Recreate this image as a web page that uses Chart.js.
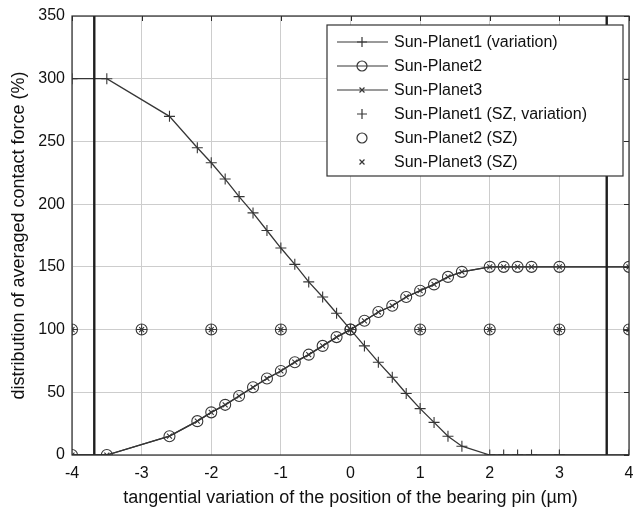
<!DOCTYPE html>
<html>
<head>
<meta charset="utf-8">
<script src="https://cdn.jsdelivr.net/npm/chart.js@4/dist/chart.umd.min.js"></script>
<style>
  html, body { margin: 0; padding: 0; background: #fff; }
  #wrap { width: 633px; height: 511px; }
</style>
</head>
<body>
<div id="wrap"><canvas id="chart" width="633" height="511"></canvas></div>
<script>
// pin offset (µm) for the variation curves
const offsets = [-4, -3.5, -2.6, -2.2, -2, -1.8, -1.6, -1.4, -1.2, -1, -0.8, -0.6, -0.4, -0.2, 0,
  0.2, 0.4, 0.6, 0.8, 1, 1.2, 1.4, 1.6, 2, 2.2, 2.4, 2.6, 3, 4];
const planet1 = [300, 300, 270, 245, 233, 220, 206, 193, 179, 165, 152, 138, 126, 113, 100,
  87, 74, 62, 49, 37, 26, 15, 7, 0, 0, 0, 0, 0, 0];
const planet2 = [0, 0, 15, 27, 34, 40, 47, 54, 61, 67, 74, 80, 87, 94, 100,
  107, 114, 119, 126, 131, 136, 142, 146, 150, 150, 150, 150, 150, 150];
const planet3 = [0, 0, 15, 27, 34, 40, 47, 54, 61, 67, 74, 80, 87, 94, 100,
  107, 114, 119, 126, 131, 136, 142, 146, 150, 150, 150, 150, 150, 150];

// SZ reference points
const szOffsets = [-4, -3, -2, -1, 0, 1, 2, 3, 4];
const szPlanet1 = [100, 100, 100, 100, 100, 100, 100, 100, 100];
const szPlanet2 = [100, 100, 100, 100, 100, 100, 100, 100, 100];
const szPlanet3 = [100, 100, 100, 100, 100, 100, 100, 100, 100];

// limits of the admissible pin offset
const limitOffsets = [-3.68, 3.68];
const limitRange = [0, 350];

const xTicks = [-4, -3, -2, -1, 0, 1, 2, 3, 4];
const yTicks = [0, 50, 100, 150, 200, 250, 300, 350];

const labels = [
  'Sun-Planet1 (variation)',
  'Sun-Planet2',
  'Sun-Planet3',
  'Sun-Planet1 (SZ, variation)',
  'Sun-Planet2 (SZ)',
  'Sun-Planet3 (SZ)'
];

const FONT = "'Liberation Sans', Arial, sans-serif";
const INK = '#363636';

const pair = (xs, ys) => xs.map((x, i) => ({ x, y: ys[i] }));

function curve(label, ys, style, radius) {
  return {
    label,
    data: pair(offsets, ys),
    borderColor: INK,
    borderWidth: 1.3,
    pointStyle: style,
    pointRadius: radius,
    pointBorderColor: INK,
    pointBorderWidth: 1.1,
    pointBackgroundColor: 'rgba(0,0,0,0)',
    showLine: true,
    tension: 0
  };
}

function markers(label, ys, style, radius) {
  return {
    label,
    data: pair(szOffsets, ys),
    showLine: false,
    pointStyle: style,
    pointRadius: radius,
    pointBorderColor: INK,
    pointBorderWidth: 1.1,
    pointBackgroundColor: 'rgba(0,0,0,0)'
  };
}

function limitLine(x) {
  return {
    label: 'limit',
    data: limitRange.map((y) => ({ x, y })),
    showLine: true,
    borderColor: '#1e1e1e',
    borderWidth: 2.4,
    pointRadius: 0
  };
}

const datasets = [
  limitLine(limitOffsets[0]),
  limitLine(limitOffsets[1]),
  curve(labels[0], planet1, 'cross', 5.5),
  curve(labels[1], planet2, 'circle', 5.5),
  curve(labels[2], planet3, 'crossRot', 3.5),
  markers(labels[3], szPlanet1, 'cross', 5.5),
  markers(labels[4], szPlanet2, 'circle', 5.5),
  markers(labels[5], szPlanet3, 'crossRot', 3.5)
];

function drawMarker(ctx, style, x, y, r) {
  ctx.beginPath();
  if (style === 'circle') {
    ctx.arc(x, y, r, 0, Math.PI * 2);
  } else if (style === 'cross') {
    ctx.moveTo(x - r, y); ctx.lineTo(x + r, y);
    ctx.moveTo(x, y - r); ctx.lineTo(x, y + r);
  } else {
    const d = r * 0.7071;
    ctx.moveTo(x - d, y - d); ctx.lineTo(x + d, y + d);
    ctx.moveTo(x - d, y + d); ctx.lineTo(x + d, y - d);
  }
  ctx.stroke();
}

// axes frame on all four sides, with short inward ticks on top and right
const framePlugin = {
  id: 'frame',
  afterDatasetsDraw(chart) {
    const { ctx, chartArea: a, scales } = chart;
    ctx.save();
    ctx.strokeStyle = '#2a2a2a';
    ctx.lineWidth = 1.2;
    ctx.strokeRect(a.left, a.top, a.right - a.left, a.bottom - a.top);
    ctx.lineWidth = 1;
    ctx.beginPath();
    scales.x.ticks.forEach((t) => {
      const px = Math.round(scales.x.getPixelForValue(t.value)) + 0.5;
      ctx.moveTo(px, a.top); ctx.lineTo(px, a.top + 5);
    });
    scales.y.ticks.forEach((t) => {
      const py = Math.round(scales.y.getPixelForValue(t.value)) + 0.5;
      ctx.moveTo(a.right, py); ctx.lineTo(a.right - 5, py);
    });
    ctx.stroke();
    ctx.restore();
  }
};

// boxed legend in the upper right corner of the plot
const legendPlugin = {
  id: 'boxLegend',
  afterDraw(chart) {
    const { ctx, chartArea: a } = chart;
    const entries = chart.data.datasets.filter((d) => labels.includes(d.label));
    const boxW = 296;
    const boxH = 151;
    const left = a.right - boxW - 6;
    const top = a.top + 9;
    ctx.save();
    ctx.fillStyle = '#fff';
    ctx.fillRect(left, top, boxW, boxH);
    ctx.strokeStyle = '#333';
    ctx.lineWidth = 1.2;
    ctx.strokeRect(left, top, boxW, boxH);
    ctx.font = '16px ' + FONT;
    ctx.textBaseline = 'middle';
    entries.forEach((d, i) => {
      const y = top + 17 + i * 24;
      const mx = left + 35;
      ctx.strokeStyle = INK;
      ctx.lineWidth = 1.2;
      if (d.showLine) {
        ctx.beginPath();
        ctx.moveTo(left + 10, y);
        ctx.lineTo(left + 61, y);
        ctx.stroke();
      }
      drawMarker(ctx, d.pointStyle, mx, y, d.pointStyle === 'crossRot' ? 3.5 : 5);
      ctx.fillStyle = '#111';
      ctx.fillText(d.label, left + 67, y + 1);
    });
    ctx.restore();
  }
};

new Chart(document.getElementById('chart'), {
  type: 'scatter',
  data: { datasets },
  plugins: [framePlugin, legendPlugin],
  options: {
    responsive: false,
    animation: false,
    layout: {
      autoPadding: false,
      padding: { top: 16, right: 4, left: 0, bottom: 0 }
    },
    plugins: {
      legend: { display: false },
      tooltip: { enabled: false }
    },
    scales: {
      x: {
        type: 'linear',
        min: -4,
        max: 4,
        afterFit(scale) {
          scale.height = 56;
          scale.paddingLeft = 0;
          scale.paddingRight = 0;
        },
        afterBuildTicks(scale) { scale.ticks = xTicks.map((v) => ({ value: v })); },
        grid: {
          color: '#cdcdcd',
          lineWidth: 1,
          drawTicks: true,
          tickLength: 9,
          tickColor: 'rgba(0,0,0,0)'
        },
        border: { display: false },
        ticks: {
          padding: 0,
          color: '#111',
          font: { family: FONT, size: 16 }
        },
        title: {
          display: true,
          text: 'tangential variation of the position of the bearing pin (µm)',
          color: '#111',
          font: { family: FONT, size: 18 },
          padding: { top: 0, bottom: 2 }
        }
      },
      y: {
        type: 'linear',
        min: 0,
        max: 350,
        afterFit(scale) {
          scale.width = 72;
          scale.paddingTop = 0;
          scale.paddingBottom = 0;
        },
        afterBuildTicks(scale) { scale.ticks = yTicks.map((v) => ({ value: v })); },
        grid: { color: '#cdcdcd', lineWidth: 1, drawTicks: false },
        border: { display: false },
        ticks: {
          padding: 7,
          color: '#111',
          font: { family: FONT, size: 16 }
        },
        title: {
          display: true,
          text: 'distribution of averaged contact force (%)',
          color: '#111',
          font: { family: FONT, size: 18 },
          padding: { top: 8, bottom: 0 }
        }
      }
    }
  }
});
</script>
</body>
</html>
